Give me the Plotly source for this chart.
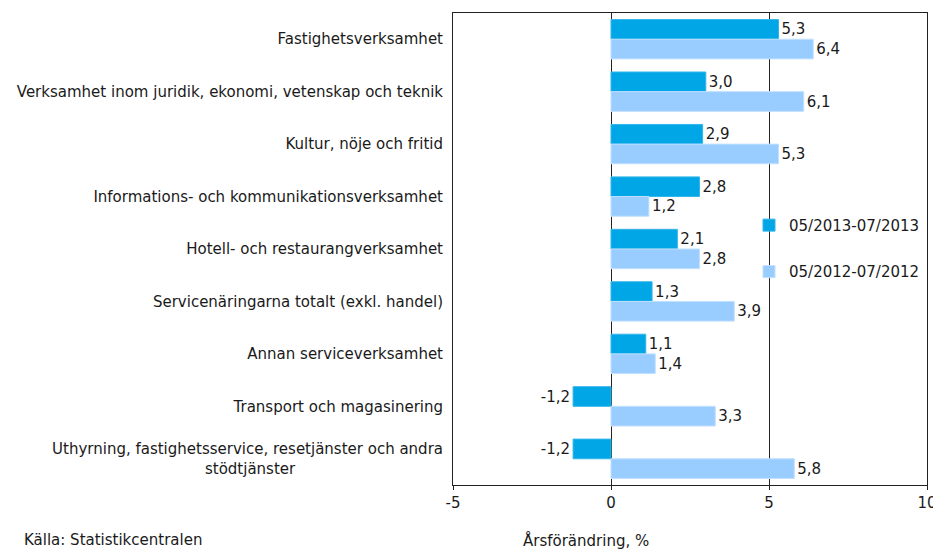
import plotly.graph_objects as go

categories = [
    "Fastighetsverksamhet",
    "Verksamhet inom juridik, ekonomi, vetenskap och teknik",
    "Kultur, nöje och fritid",
    "Informations- och kommunikationsverksamhet",
    "Hotell- och restaurangverksamhet",
    "Servicenäringarna totalt (exkl. handel)",
    "Annan serviceverksamhet",
    "Transport och magasinering",
    "Uthyrning, fastighetsservice, resetjänster och andra<br>stödtjänster" + "\u00a0" * 31,
]
series_2013 = [5.3, 3.0, 2.9, 2.8, 2.1, 1.3, 1.1, -1.2, -1.2]
series_2012 = [6.4, 6.1, 5.3, 1.2, 2.8, 3.9, 1.4, 3.3, 5.8]
name_2013 = "05/2013-07/2013"
name_2012 = "05/2012-07/2012"
x_tickvals = [-5, 0, 5, 10]
x_ticktext = ["-5", "0", "5", "10"]
x_title = "Årsförändring, %"
source_text = "Källa: Statistikcentralen"

def fmt(v):
    return f"{v:.1f}".replace(".", ",")

FONT = "DejaVu Sans"
TXT = "#1a1a1a"

fig = go.Figure()
fig.add_trace(go.Bar(
    y=categories, x=series_2013, orientation="h", name=name_2013,
    marker=dict(color="#00a6e6", line=dict(color="#33b5ea", width=1)),
    text=[fmt(v) for v in series_2013], textposition="outside",
    textfont=dict(family=FONT, size=15, color=TXT), cliponaxis=False,
    legendgroup="a",
))
fig.add_trace(go.Bar(
    y=categories, x=series_2012, orientation="h", name=name_2012,
    marker=dict(color="#99ccff", line=dict(color="#c2e0ff", width=1)),
    text=[fmt(v) for v in series_2012], textposition="outside",
    textfont=dict(family=FONT, size=15, color=TXT), cliponaxis=False,
    legendgroup="b",
))

fig.update_layout(
    width=933, height=550,
    margin=dict(l=453, r=6, t=13, b=65, autoexpand=False),
    paper_bgcolor="white", plot_bgcolor="white",
    barmode="group", bargap=0.25, bargroupgap=0,
    font=dict(family=FONT, size=15, color=TXT),
    showlegend=True,
    legend=dict(
        x=0.6245, y=0.585, xanchor="left", yanchor="top",
        bgcolor="rgba(0,0,0,0)", font=dict(family=FONT, size=15, color=TXT),
        tracegroupgap=24, traceorder="grouped", itemwidth=30,
    ),
    xaxis=dict(
        range=[-5, 10], tickvals=x_tickvals, ticktext=x_ticktext,
        showgrid=True, gridcolor="#222", gridwidth=1,
        zeroline=True, zerolinecolor="#222", zerolinewidth=1,
        showline=True, linecolor="#222", linewidth=1, mirror=True,
        ticks="outside", ticklen=4, tickcolor="#222",
        ticklabeloverflow="allow",
        tickfont=dict(family=FONT, size=15, color=TXT),
    ),
    yaxis=dict(
        autorange="reversed", showgrid=False,
        showline=True, linecolor="#222", linewidth=1, mirror=True,
        ticks="", ticklabelstandoff=6,
        tickfont=dict(family=FONT, size=15, color=TXT),
    ),
    annotations=[
        dict(text=x_title, xref="paper", yref="paper", x=0.2806, y=-0.117,
             xanchor="center", yanchor="middle", showarrow=False,
             font=dict(family=FONT, size=15, color=TXT)),
        dict(text=source_text, xref="paper", yref="paper", x=-0.909, y=-0.117,
             xanchor="left", yanchor="middle", showarrow=False,
             font=dict(family=FONT, size=15, color=TXT)),
    ],
)

fig.write_html(
    "out.html",
    config={"displayModeBar": False},
    post_script=(
        "document.documentElement.style.overflow='hidden';"
        "document.body.style.margin='0';document.body.style.overflow='hidden';"
    ),
)
